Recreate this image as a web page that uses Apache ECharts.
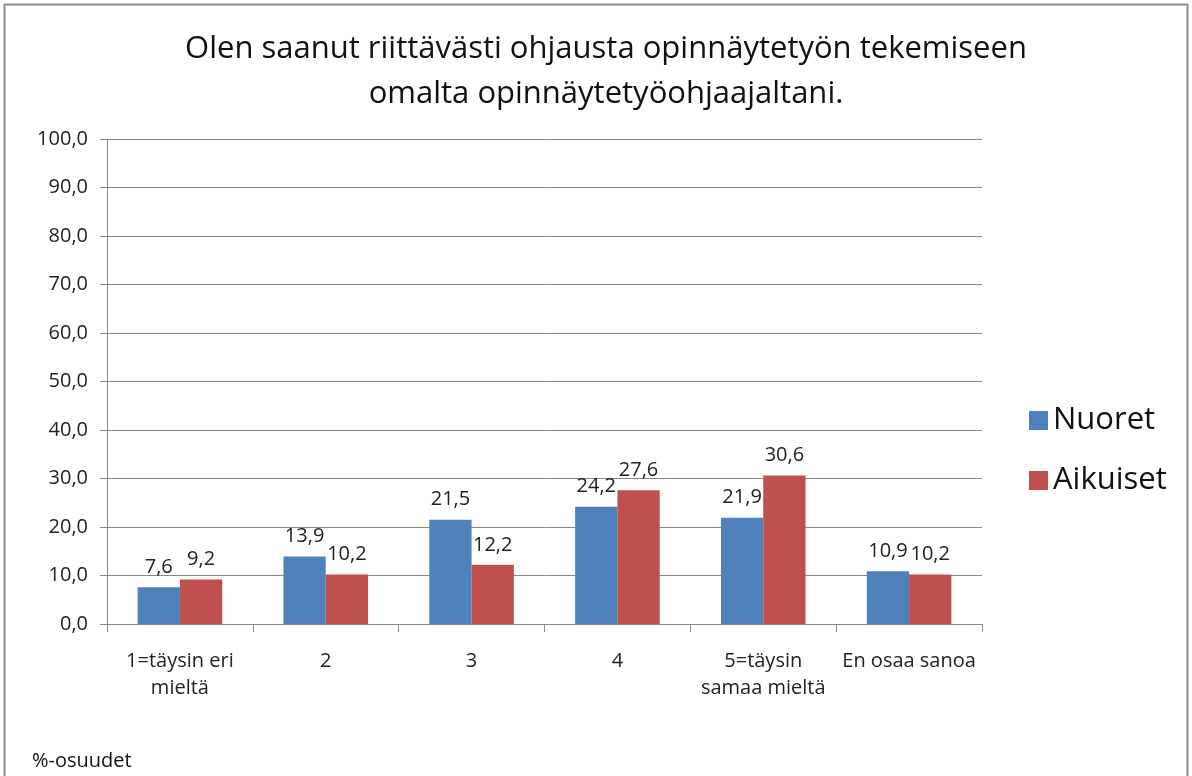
<!DOCTYPE html>
<html>
<head>
<meta charset="utf-8">
<script src="https://cdn.jsdelivr.net/npm/echarts@6/dist/echarts.min.js"></script>
<style>
  html, body { margin: 0; padding: 0; background: #fff; }
  #chart { width: 1192px; height: 776px; }
</style>
</head>
<body>
<div id="chart"></div>
<script>
// data
const categories = ['1=täysin eri\nmieltä', '2', '3', '4', '5=täysin\nsamaa mieltä', 'En osaa sanoa'];
const nuoret = [7.6, 13.9, 21.5, 24.2, 21.9, 10.9];
const aikuiset = [9.2, 10.2, 12.2, 27.6, 30.6, 10.2];
const seriesNames = ['Nuoret', 'Aikuiset'];

const FONT = '"Open Sans", "Noto Sans", sans-serif';
const fmt = v => v.toFixed(1).replace('.', ',');

const chart = echarts.init(document.getElementById('chart'));

// arvot palkkien päälle
const labelStyle = {
  show: true,
  position: 'top',
  distance: 10,
  fontFamily: FONT,
  fontSize: 20,
  color: '#222',
  formatter: p => fmt(p.value)
};

chart.setOption({
  animation: false,
  backgroundColor: '#fff',
  title: [
    {
      text: 'Olen saanut riittävästi ohjausta opinnäytetyön tekemiseen\nomalta opinnäytetyöohjaajaltani.',
      left: 601,
      textAlign: 'center',
      top: 22,
      textStyle: {
        fontFamily: FONT,
        fontSize: 31,
        fontWeight: 'normal',
        color: '#111',
        lineHeight: 45
      }
    },
    {
      text: '%-osuudet',
      left: 27,
      top: 746,
      textStyle: {
        fontFamily: FONT,
        fontSize: 20,
        fontWeight: 'normal',
        color: '#111'
      }
    }
  ],
  graphic: [
    {
      type: 'rect',
      shape: { x: 4.5, y: 4.5, width: 1183, height: 800 },
      style: { fill: 'none', stroke: '#8c8c8c', lineWidth: 2 },
      silent: true
    }
  ],
  legend: {
    orient: 'vertical',
    left: 1024,
    top: 400,
    itemWidth: 19,
    itemHeight: 19,
    itemGap: 29,
    icon: 'rect',
    data: seriesNames,
    textStyle: {
      fontFamily: FONT,
      fontSize: 31,
      color: '#111'
    }
  },
  grid: {
    left: 107,
    right: 210,
    top: 139,
    bottom: 152,
    containLabel: false
  },
  xAxis: {
    type: 'category',
    data: categories,
    axisLine: { lineStyle: { color: '#888', width: 1 } },
    axisTick: { show: true, length: 8, alignWithLabel: false, lineStyle: { color: '#888' } },
    axisLabel: {
      interval: 0,
      margin: 24,
      fontFamily: FONT,
      fontSize: 20,
      lineHeight: 27,
      color: '#222'
    }
  },
  yAxis: {
    type: 'value',
    min: 0,
    max: 100,
    interval: 10,
    axisLine: { show: true, lineStyle: { color: '#888', width: 1 } },
    axisTick: { show: true, length: 7, lineStyle: { color: '#888' } },
    splitLine: { show: true, lineStyle: { color: '#888', width: 1 } },
    axisLabel: {
      margin: 19,
      fontFamily: FONT,
      fontSize: 20,
      color: '#222',
      formatter: v => fmt(v)
    }
  },
  series: [
    {
      name: seriesNames[0],
      type: 'bar',
      data: nuoret,
      barGap: '0%',
      barCategoryGap: '42%',
      itemStyle: { color: '#4F81BD' },
      label: labelStyle
    },
    {
      name: seriesNames[1],
      type: 'bar',
      data: aikuiset,
      barGap: '0%',
      barCategoryGap: '42%',
      itemStyle: { color: '#C0504D' },
      label: labelStyle
    }
  ]
});
</script>
</body>
</html>
